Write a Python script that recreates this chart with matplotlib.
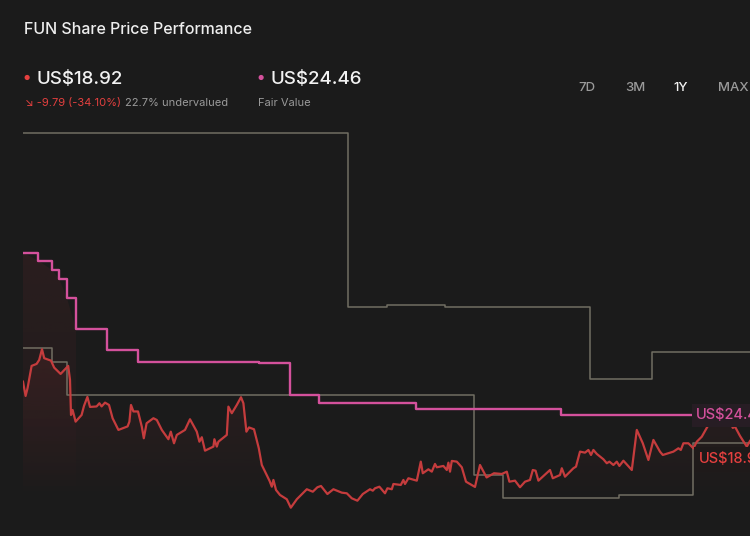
import numpy as np
import matplotlib.pyplot as plt
from matplotlib.colors import to_rgb

plt.rcParams['font.family'] = ['Inter', 'DejaVu Sans']

# share price (US$) by day over the last year
days = [0, 1.3, 2.3, 4.3, 6.8, 8.1, 9.5, 10.6, 14, 15.6, 18.8, 22.6, 23.5, 24, 24.8, 26.3,
        29.3, 30.5, 32.2, 33.5, 36.8, 38.2, 39.3, 41, 43, 44.8, 47.7, 52.3, 53.2, 54, 55.2,
        57.5, 59.4, 60.4, 61.8, 65.2, 66.9, 69.4, 72.7, 73.9, 75.5, 76.9, 81, 83.5, 86.9,
        88.2, 89.4, 91, 95.2, 95.7, 96.9, 97.7, 101.9, 102.7, 104.4, 106.9, 109, 110.2,
        111.7, 113, 115.5, 117.9, 119.4, 123.3, 124.4, 125.2, 126.5, 128.5, 131.9, 133.9,
        136.9, 141.9, 144.9, 147.2, 149, 152.2, 155.2, 159.4, 161.9, 164.4, 167.2, 169.9,
        173.5, 174.9, 176, 178.2, 181, 182.2, 184.4, 185.2, 188.9, 190.2, 191, 192.7, 196.9,
        198.9, 199.9, 202.7, 204.4, 206, 206.9, 210.2, 211.9, 212.7, 213.5, 214.4, 216.9,
        219.4, 221.5, 226, 228.5, 231.8, 235.5, 239.4, 241.9, 243.2, 246, 248.5, 251, 253.5,
        254.9, 256.3, 257.7, 263.5, 264.9, 268.5, 269.4, 271, 275.2, 276.5, 278.5, 281,
        282.7, 284, 285.2, 286.9, 290.2, 291.9, 293.2, 295.2, 296.9, 298.2, 300.2, 304.4,
        306.9, 309.9, 312.7, 315.2, 318.5, 319.9, 325.2, 327.7, 328.9, 330.2, 332.7, 335.2,
        336.9, 339.4, 342.7, 345, 347.5, 350, 352, 354.9, 356, 358.5, 361.9, 363.5]
price = [28.71, 26.91, 27.92, 30.69, 30.94, 31.44, 32.79, 31.66, 31.35, 30.47, 29.68, 30.69,
         28.93, 24.52, 25.15, 23.68, 24.52, 25.66, 26.79, 25.53, 25.59, 25.99, 25.59, 26.07,
         25.78, 24.11, 22.64, 23.08, 23.68, 25.78, 24.96, 24.96, 23.05, 21.59, 23.48, 24.11,
         23.89, 22.64, 21.47, 22.42, 20.96, 22.01, 22.64, 23.98, 22.42, 21.16, 21.72, 20.03,
         20.54, 21.47, 20.54, 21.16, 22.01, 25.57, 24.74, 25.78, 26.75, 25.99, 22.42, 22.95,
         22.72, 20.33, 18.23, 16.22, 15.50, 16.35, 15.09, 14.46, 13.92, 12.86, 13.92, 15.18,
         14.87, 15.43, 15.59, 14.58, 15.18, 14.75, 14.67, 14.04, 13.74, 14.58, 15.18, 15.00,
         15.30, 15.50, 14.67, 15.30, 15.18, 15.84, 15.72, 16.35, 15.84, 16.56, 16.26, 18.65,
         17.19, 17.69, 17.39, 18.36, 17.94, 18.11, 17.60, 18.52, 17.39, 18.74, 18.65, 17.94,
         16.13, 15.47, 18.23, 16.66, 17.19, 17.10, 17.39, 16.13, 16.26, 15.43, 16.13, 16.35,
         17.60, 17.51, 16.26, 17.60, 16.56, 16.97, 17.82, 16.76, 17.82, 18.02, 19.91, 19.78,
         20.12, 19.49, 20.12, 19.62, 18.95, 18.45, 18.65, 18.23, 18.65, 18.11, 18.77, 17.60,
         22.64, 20.96, 18.86, 21.38, 19.91, 19.49, 19.91, 20.33, 20.12, 20.96, 20.96, 20.33,
         21.16, 21.79, 23.26, 24.90, 25.78, 25.15, 24.65, 22.89, 23.05, 21.88, 20.54, 21.25]

# fair value estimate (step changes)
fv_days = [0, 7.5, 14.5, 18, 22, 26.5, 42, 57.5, 118, 133.5, 148, 196.5, 269]
fv_vals = [44.94, 43.93, 42.76, 41.67, 39.20, 35.30, 32.74, 31.19, 31.06, 27.00, 26.07, 25.24, 24.46]

# analyst targets high / low (step changes)
hi_days = [0, 162.5, 182, 211, 283.5, 314.5]
hi_vals = [59.96, 38.07, 38.40, 38.07, 29.01, 32.49]
lo_days = [0, 14.7, 22.2, 225.5, 240, 298, 335]
lo_vals = [32.99, 31.23, 27.04, 16.97, 14.02, 14.50, 20.96]

last_price = 18.92
fair_value = 24.46

BG = '#1b1b1b'
RED = '#c53c3d'
PINK = '#d4519c'
GRAY = '#716e62'
XMAX = 363.5
YMIN, YMAX = 9.3, 76.7

fig = plt.figure(figsize=(7.5, 5.36), dpi=100, facecolor=BG)
ax = fig.add_axes([23 / 750, 0, 727 / 750, 1])
ax.axis('off')


def gradient_fill(x, y, color, y0, y1, a0, a1, xcut=None):
    poly = ax.fill_between(x, y, YMIN, color='none', lw=0)
    n = 200
    g = np.zeros((n, 1, 4))
    g[:, 0, :3] = to_rgb(color)
    g[:, 0, 3] = np.linspace(0, 1, n) ** 0.8 * (a1 - a0) + a0
    im = ax.imshow(g, extent=[0, XMAX if xcut is None else xcut, y0, y1],
                   origin='lower', aspect='auto', zorder=1, interpolation='bilinear')
    im.set_clip_path(poly.get_paths()[0], transform=ax.transData)


gradient_fill(days, price, '#a0333a', 14.5, 33.5, 0.0, 0.15)
fvd = fv_days + [XMAX]
fvv = fv_vals + [fv_vals[-1]]
gradient_fill(fvd, fvv, '#a0333a', 14.5, 45.5, 0.0, 0.12, xcut=26.5)

ax.step(hi_days + [XMAX], hi_vals + [hi_vals[-1]], where='post', color=GRAY, lw=1.1, zorder=2)
ax.step(lo_days + [XMAX], lo_vals + [lo_vals[-1]], where='post', color=GRAY, lw=1.1, zorder=2)
ax.step(fvd, fvv, where='post', color=PINK, lw=1.7, zorder=3)
ax.plot(days, price, color=RED, lw=1.6, zorder=4)

ax.set_xlim(0, XMAX)
ax.set_ylim(YMIN, YMAX)

# end-of-line labels (cut by the right edge, as in the original)
ax.text(336.5, fair_value, 'US$%.2f' % fair_value, color=PINK, fontsize=10.5, va='center',
        ha='left', zorder=6, fontweight='medium',
        bbox=dict(boxstyle='square,pad=0.3', fc='#271d24', ec='none'))
ax.text(338, last_price, 'US$%.2f' % last_price, color='#e5403f', fontsize=10.5, va='center',
        ha='left', zorder=6, fontweight='medium',
        bbox=dict(boxstyle='square,pad=0.35', fc='#1f1a1a', ec='none'))

# header
fig.text(24 / 750, 1 - 29 / 536, 'FUN Share Price Performance', color='#eeeeee',
         fontsize=11.5, va='center', ha='left', fontweight='medium')
fig.text(23 / 750, 1 - 78 / 536, '●', color='#e5403f', fontsize=5, va='center', ha='left')
fig.text(36 / 750, 1 - 79 / 536, 'US$%.2f' % last_price, color='#f2f2f2', fontsize=13.5,
         va='center', ha='left', fontweight='medium')
fig.text(25 / 750, 1 - 103 / 536, '↘ -9.79 (-34.10%)', color='#e5403f', fontsize=8,
         va='center', ha='left')
fig.text(125 / 750, 1 - 103 / 536, '22.7% undervalued', color='#9a9a9a', fontsize=8,
         va='center', ha='left')
fig.text(257 / 750, 1 - 78 / 536, '●', color=PINK, fontsize=5, va='center', ha='left')
fig.text(270 / 750, 1 - 79 / 536, 'US$%.2f' % fair_value, color='#f2f2f2', fontsize=13.5,
         va='center', ha='left', fontweight='medium')
fig.text(258 / 750, 1 - 103 / 536, 'Fair Value', color='#9a9a9a', fontsize=8,
         va='center', ha='left')

for label, xp, col in [('7D', 587, '#9a9a9a'), ('3M', 635, '#9a9a9a'),
                       ('1Y', 681, '#f2f2f2'), ('MAX', 733, '#9a9a9a')]:
    fig.text(xp / 750, 1 - 88 / 536, label, color=col, fontsize=9.5, va='center', ha='center',
             fontweight='medium')

fig.savefig('out.png', dpi=100, facecolor=BG)
